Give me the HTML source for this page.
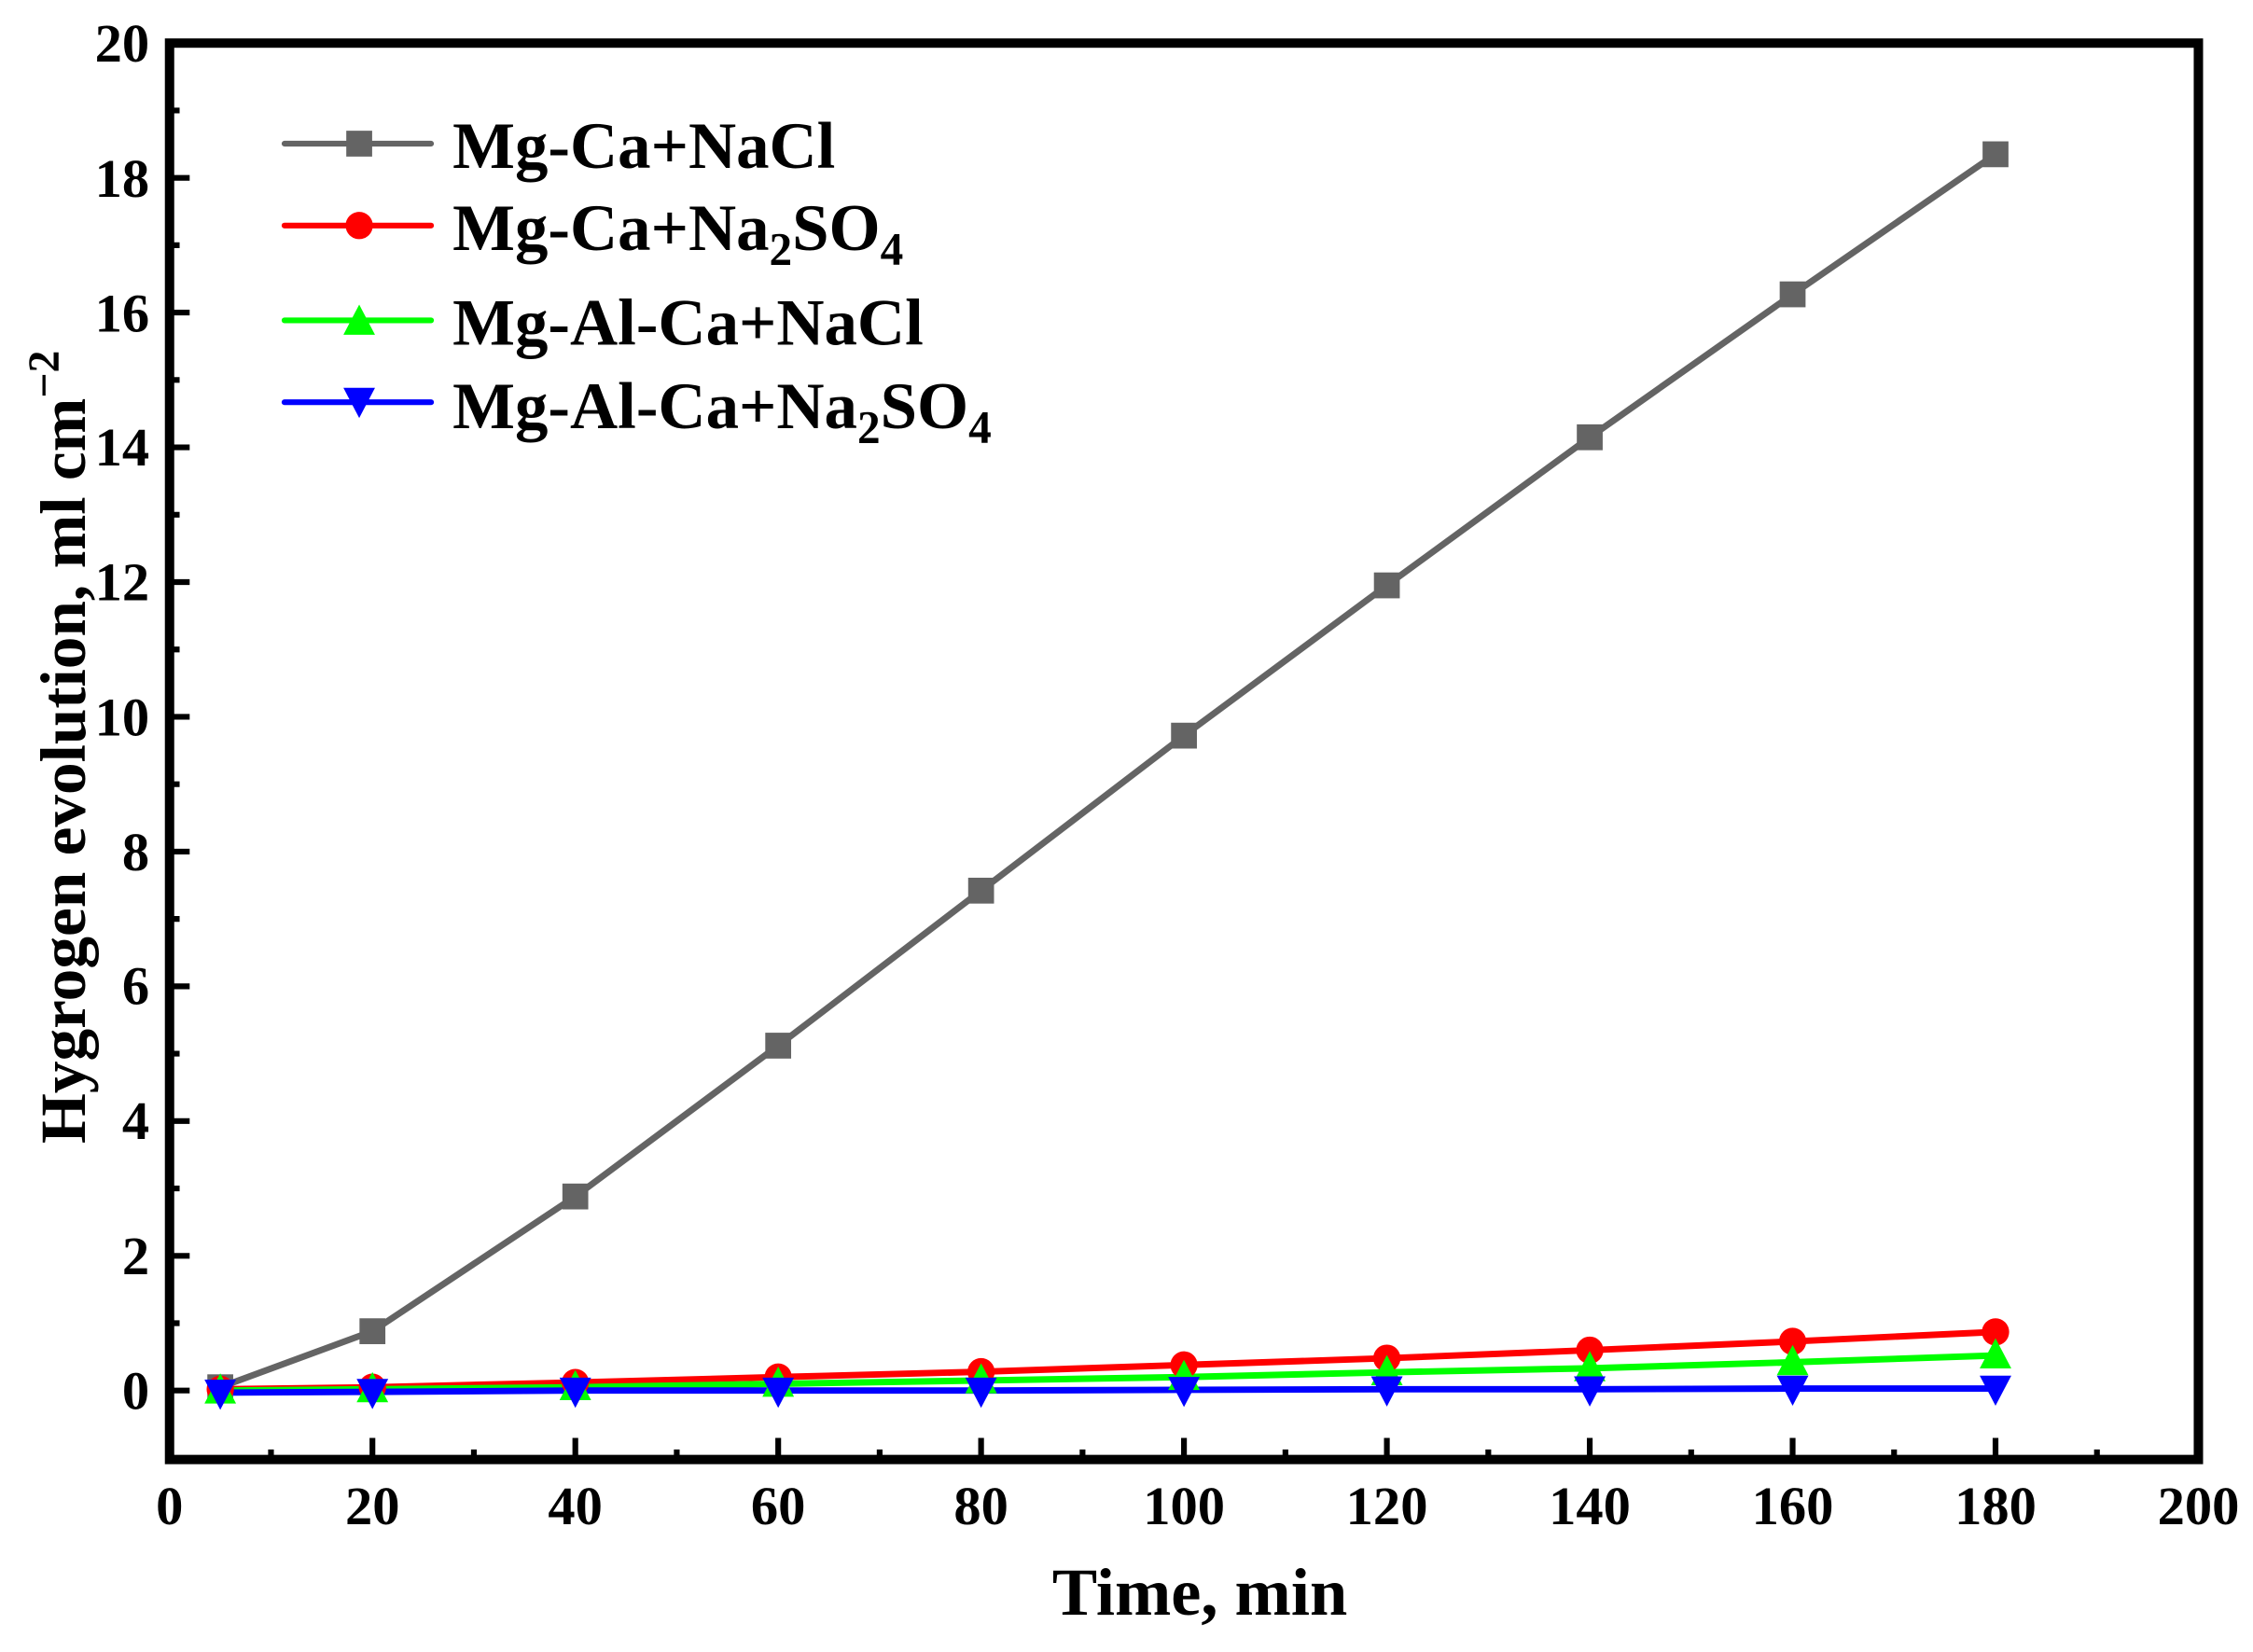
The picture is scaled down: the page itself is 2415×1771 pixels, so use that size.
<!DOCTYPE html>
<html><head><style>html,body{margin:0;padding:0;background:#fff}svg{display:block}</style></head>
<body>
<svg width="2415" height="1771" viewBox="0 0 1568 1150" preserveAspectRatio="none" xmlns="http://www.w3.org/2000/svg" font-family="'Liberation Serif', serif" font-weight="bold">
<rect width="1568" height="1150" fill="#fff"/>
<g stroke="#000" stroke-width="4">
<path d="M259.2,1016v-15M400.4,1016v-15M541.6,1016v-15M682.8,1016v-15M824,1016v-15M965.2,1016v-15M1106.4,1016v-15M1247.6,1016v-15M1388.8,1016v-15
M188.6,1016v-7M329.8,1016v-7M471,1016v-7M612.2,1016v-7M753.4,1016v-7M894.6,1016v-7M1035.8,1016v-7M1177,1016v-7M1318.2,1016v-7M1459.4,1016v-7"/>
<path d="M118,968h14M118,874.2h14M118,780.4h14M118,686.6h14M118,592.8h14M118,499h14M118,405.2h14M118,311.4h14M118,217.6h14M118,123.8h14
M118,1015h7M118,921.1h7M118,827.3h7M118,733.5h7M118,639.7h7M118,545.9h7M118,452.1h7M118,358.3h7M118,264.5h7M118,170.7h7M118,76.9h7"/>
</g>
<rect x="118" y="30" width="1412" height="986" fill="none" stroke="#000" stroke-width="6.5"/>
<g font-size="38" text-anchor="middle">
<text x="118" y="1061">0</text><text x="259.2" y="1061">20</text><text x="400.4" y="1061">40</text><text x="541.6" y="1061">60</text><text x="682.8" y="1061">80</text><text x="824" y="1061">100</text><text x="965.2" y="1061">120</text><text x="1106.4" y="1061">140</text><text x="1247.6" y="1061">160</text><text x="1388.8" y="1061">180</text><text x="1530" y="1061">200</text>
</g>
<g font-size="38" text-anchor="end">
<text x="104" y="981">0</text><text x="104" y="887">2</text><text x="104" y="793">4</text><text x="104" y="699">6</text><text x="104" y="606">8</text><text x="104" y="512">10</text><text x="104" y="418">12</text><text x="104" y="324">14</text><text x="104" y="231">16</text><text x="104" y="137">18</text><text x="104" y="43">20</text>
</g>
<text x="835" y="1124" font-size="47" text-anchor="middle">Time, min</text>
<text transform="translate(59,520) rotate(-90)" font-size="45" text-anchor="middle">Hygrogen evolution, ml cm<tspan dy="-18" font-size="31">−2</tspan></text>

<g stroke-width="4.5" fill="none" stroke-linejoin="round">
<polyline stroke="#646464" points="153.3,965.7 259.2,926.7 400.4,832.9 541.6,727.9 682.8,620 824,512.1 965.2,407.5 1106.4,304.4 1247.6,204.9 1388.8,107.4"/>
<polyline stroke="#ff0000" points="153.3,967.1 259.2,965.7 400.4,962.4 541.6,958.6 682.8,954.9 824,950.2 965.2,945.5 1106.4,939.9 1247.6,933.8 1388.8,927.2"/>
<polyline stroke="#00ff00" points="153.3,968 259.2,967.1 400.4,965.7 541.6,963.3 682.8,961 824,958.6 965.2,955.3 1106.4,952.5 1247.6,948.3 1388.8,943.6"/>
<polyline stroke="#0000ff" points="153.3,969.4 259.2,968.9 400.4,968 541.6,968 682.8,968 824,967.5 965.2,967.1 1106.4,967.1 1247.6,966.6 1388.8,966.6"/>
</g>
<g fill="#646464">
<rect x="144.3" y="956.7" width="18" height="18"/><rect x="250.2" y="917.7" width="18" height="18"/><rect x="391.4" y="823.9" width="18" height="18"/><rect x="532.6" y="718.9" width="18" height="18"/><rect x="673.8" y="611" width="18" height="18"/><rect x="815" y="503.1" width="18" height="18"/><rect x="956.2" y="398.5" width="18" height="18"/><rect x="1097.4" y="295.4" width="18" height="18"/><rect x="1238.6" y="195.9" width="18" height="18"/><rect x="1379.8" y="98.4" width="18" height="18"/>
</g>
<g fill="#ff0000">
<circle cx="153.3" cy="967.1" r="9.5"/><circle cx="259.2" cy="965.7" r="9.5"/><circle cx="400.4" cy="962.4" r="9.5"/><circle cx="541.6" cy="958.6" r="9.5"/><circle cx="682.8" cy="954.9" r="9.5"/><circle cx="824" cy="950.2" r="9.5"/><circle cx="965.2" cy="945.5" r="9.5"/><circle cx="1106.4" cy="939.9" r="9.5"/><circle cx="1247.6" cy="933.8" r="9.5"/><circle cx="1388.8" cy="927.2" r="9.5"/>
</g>
<g fill="#00ff00">
<path d="M153.3,956l11,21h-22z M259.2,955.1l11,21h-22z M400.4,953.7l11,21h-22z M541.6,951.3l11,21h-22z M682.8,949l11,21h-22z M824,946.6l11,21h-22z M965.2,943.3l11,21h-22z M1106.4,940.5l11,21h-22z M1247.6,936.3l11,21h-22z M1388.8,931.6l11,21h-22z"/>
</g>
<g fill="#0000ff">
<path d="M153.3,981.4l11,-21h-22z M259.2,980.9l11,-21h-22z M400.4,980l11,-21h-22z M541.6,980l11,-21h-22z M682.8,980l11,-21h-22z M824,979.5l11,-21h-22z M965.2,979.1l11,-21h-22z M1106.4,979.1l11,-21h-22z M1247.6,978.6l11,-21h-22z M1388.8,978.6l11,-21h-22z"/>
</g>

<g stroke-width="4" stroke-linecap="round">
<line x1="198" y1="100" x2="300" y2="100" stroke="#646464"/>
<line x1="198" y1="157" x2="300" y2="157" stroke="#ff0000"/>
<line x1="198" y1="223" x2="300" y2="223" stroke="#00ff00"/>
<line x1="198" y1="280" x2="300" y2="280" stroke="#0000ff"/>
</g>
<rect x="241" y="91" width="18" height="18" fill="#646464"/>
<circle cx="250" cy="157" r="9.5" fill="#ff0000"/>
<path d="M250,212l11,21h-22z" fill="#00ff00"/>
<path d="M250,291l11,-21h-22z" fill="#0000ff"/>
<g font-size="46">
<text x="315" y="117">Mg-Ca+NaCl</text>
<text x="315" y="174">Mg-Ca+Na<tspan font-size="32" dy="10">2</tspan><tspan dy="-10">SO</tspan><tspan font-size="32" dy="10">4</tspan></text>
<text x="315" y="240">Mg-Al-Ca+NaCl</text>
<text x="315" y="298">Mg-Al-Ca+Na<tspan font-size="32" dy="10">2</tspan><tspan dy="-10">SO</tspan><tspan font-size="32" dy="10">4</tspan></text>
</g>
</svg>
</body></html>
